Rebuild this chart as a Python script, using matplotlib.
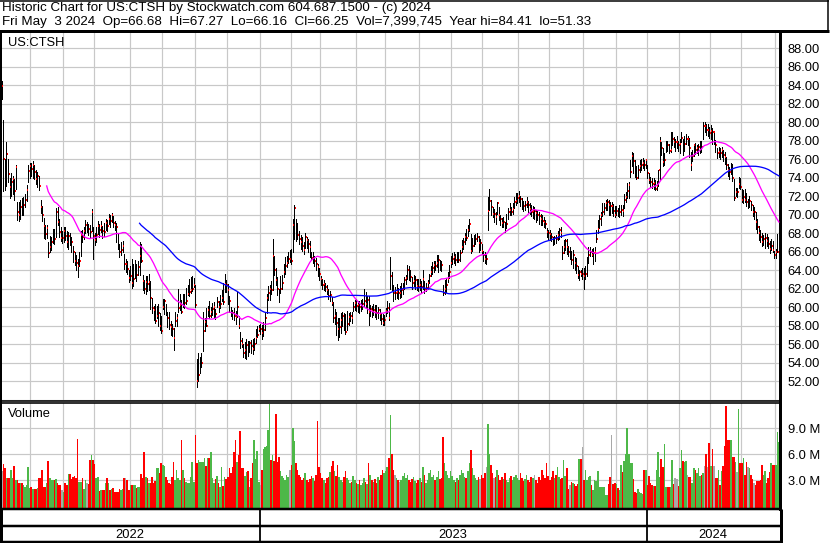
import matplotlib
matplotlib.use("Agg")
import matplotlib.pyplot as plt
from matplotlib.lines import Line2D
import numpy as np
import pandas as pd

plt.rcParams['font.family'] = ['Liberation Sans', 'DejaVu Sans']

# ---- data (daily bars, 2022-05-04 .. 2024-05-03) ----
close = [
    83.9, 76.0, 75.6, 76.5, 74.4, 73.0, 73.5, 73.8, 72.5, 75.1,
    70.3, 70.0, 70.8, 70.3, 71.0, 71.6, 72.7, 74.7, 75.2, 74.9,
    75.3, 74.6, 73.8, 74.2, 73.1, 70.8, 69.9, 68.8, 67.9, 68.5,
    65.8, 66.5, 67.0, 67.9, 67.3, 70.3, 69.2, 68.1, 67.5, 67.5,
    68.2, 67.7, 67.0, 67.7, 67.4, 67.0, 66.0, 65.0, 64.8, 64.4,
    65.0, 67.8, 67.6, 68.2, 68.9, 68.9, 68.4, 68.1, 70.3, 67.7,
    67.2, 67.8, 68.8, 68.3, 68.8, 68.2, 68.1, 69.1, 68.8, 69.5,
    69.3, 69.9, 69.1, 68.9, 68.6, 66.9, 65.9, 66.2, 66.6, 64.6,
    64.6, 64.1, 63.1, 63.4, 62.6, 63.0, 64.3, 63.5, 64.3, 65.5,
    65.0, 62.8, 62.0, 62.7, 62.5, 62.7, 61.0, 59.9, 59.7, 58.5,
    59.0, 59.3, 58.0, 57.4, 60.0, 60.6, 59.6, 58.8, 58.1, 57.8,
    57.6, 56.7, 58.5, 58.8, 59.9, 60.2, 59.5, 60.5, 60.4, 60.7,
    61.4, 61.6, 61.8, 62.0, 62.4, 60.2, 52.0, 52.7, 53.5, 54.0,
    57.4, 58.4, 58.0, 59.7, 59.0, 59.5, 59.8, 60.0, 59.2, 60.5,
    60.0, 60.3, 61.0, 60.5, 62.5, 62.4, 61.8, 60.6, 59.5, 59.3,
    59.0, 58.9, 60.0, 58.0, 56.3, 56.0, 55.0, 55.4, 55.9, 55.6,
    56.1, 55.8, 55.5, 56.0, 56.6, 57.0, 57.6, 57.6, 57.2, 57.5,
    58.8, 61.0, 61.5, 62.0, 61.8, 65.5, 64.0, 62.9, 62.0, 60.9,
    62.0, 62.6, 63.8, 64.4, 64.8, 65.2, 65.2, 65.0, 68.9, 70.7,
    69.0, 67.8, 67.4, 67.0, 66.6, 66.2, 67.6, 67.2, 66.8, 66.5,
    65.3, 65.6, 65.0, 64.6, 64.3, 63.6, 63.0, 62.4, 62.5, 62.2,
    61.8, 61.2, 61.3, 60.4, 58.8, 59.0, 58.3, 57.6, 57.8, 58.6,
    59.0, 58.5, 57.3, 58.2, 58.9, 59.0, 58.8, 60.0, 60.4, 60.1,
    60.2, 60.0, 60.2, 60.3, 60.6, 60.3, 60.8, 59.5, 59.8, 59.6,
    59.7, 59.5, 59.3, 59.7, 59.2, 58.7, 58.3, 58.6, 59.6, 59.9,
    58.8, 63.3, 62.5, 61.5, 61.5, 61.6, 61.5, 61.5, 61.8, 62.0,
    62.9, 63.1, 64.0, 63.5, 63.2, 62.6, 62.8, 62.9, 62.3, 62.2,
    62.4, 62.2, 63.0, 62.0, 62.1, 62.6, 63.3, 63.8, 64.2, 64.5,
    64.4, 64.8, 65.1, 64.6, 64.5, 61.5, 62.0, 62.4, 63.0, 63.8,
    64.8, 65.2, 65.4, 65.1, 65.4, 65.1, 65.8, 66.5, 67.0, 67.6,
    67.5, 68.3, 69.0, 66.1, 66.6, 67.2, 67.3, 67.6, 66.9, 66.9,
    66.1, 65.6, 65.2, 65.2, 70.4, 71.5, 70.8, 70.1, 70.1, 69.7,
    71.2, 70.0, 69.5, 69.1, 69.2, 68.6, 69.0, 70.3, 70.5, 70.3,
    70.6, 71.4, 71.5, 71.8, 72.0, 71.7, 71.2, 70.9, 71.0, 71.3,
    71.0, 70.6, 70.3, 70.4, 70.4, 70.2, 69.9, 69.8, 69.5, 69.3,
    69.2, 69.0, 68.1, 68.0, 67.9, 67.6, 67.2, 67.5, 67.3, 67.8,
    68.3, 68.0, 65.8, 66.5, 67.1, 66.5, 66.0, 66.0, 65.1, 65.6,
    64.8, 64.4, 63.5, 63.8, 63.6, 63.6, 63.4, 63.6, 64.5, 65.6,
    66.0, 65.6, 65.8, 65.9, 67.4, 68.4, 69.5, 69.9, 70.3, 70.7,
    71.2, 71.4, 71.0, 70.9, 70.9, 70.4, 69.9, 70.4, 70.0, 70.3,
    70.5, 70.4, 71.6, 71.9, 72.5, 73.2, 74.6, 76.3, 75.8, 75.3,
    73.9, 74.8, 75.2, 75.4, 75.6, 75.4, 75.9, 74.5, 73.7, 73.5,
    73.3, 73.4, 72.8, 73.1, 74.8, 77.9, 77.2, 75.7, 75.9, 77.7,
    77.5, 76.9, 77.0, 78.2, 77.8, 77.8, 77.8, 77.5, 77.6, 78.3,
    77.5, 77.6, 78.2, 78.2, 77.2, 75.3, 76.3, 77.5, 77.0, 77.2,
    77.3, 77.5, 77.3, 79.6, 79.6, 79.1, 79.1, 78.8, 79.0, 78.9,
    78.9, 77.5, 76.6, 76.8, 76.6, 77.0, 76.4, 76.2, 75.3, 74.8,
    74.6, 74.8, 74.0, 71.8, 72.4, 72.4, 73.3, 73.0, 71.6, 71.9,
    71.6, 71.3, 71.3, 71.5, 71.0, 70.3, 70.3, 69.2, 68.6, 68.0,
    67.6, 67.0, 67.4, 67.5, 67.1, 66.8, 66.3, 66.6, 66.2, 65.6,
    65.9, 66.0, 66.25,
]

high = [
    84.4, 80.2, 76.0, 77.8, 76.0, 74.0, 74.5, 74.2, 73.8, 75.3,
    71.3, 71.3, 71.6, 71.8, 71.9, 72.2, 73.2, 75.3, 75.6, 75.6,
    75.8, 75.4, 74.8, 74.6, 74.2, 71.6, 70.9, 69.6, 68.9, 68.9,
    67.0, 67.7, 67.6, 68.4, 68.4, 70.7, 70.8, 69.5, 68.7, 68.2,
    68.6, 68.6, 68.2, 68.1, 68.0, 67.6, 66.6, 66.0, 65.6, 65.2,
    65.9, 68.2, 68.3, 68.6, 69.4, 69.2, 69.0, 68.9, 70.6, 68.7,
    68.0, 68.6, 69.3, 69.0, 69.3, 68.8, 69.1, 69.5, 69.4, 70.1,
    69.9, 70.2, 69.8, 69.3, 69.1, 67.9, 66.8, 67.0, 67.1, 65.7,
    65.2, 65.0, 64.0, 64.4, 65.2, 64.6, 65.1, 64.6, 65.0, 67.0,
    66.8, 63.5, 62.9, 63.3, 63.4, 63.6, 62.8, 61.0, 60.1, 60.3,
    60.1, 60.3, 59.4, 59.0, 60.9, 60.9, 60.3, 59.5, 59.5, 58.5,
    58.2, 57.7, 59.5, 59.2, 61.9, 61.4, 60.8, 61.4, 61.4, 62.1,
    62.4, 63.0, 63.2, 63.3, 63.1, 62.4, 54.4, 55.0, 54.6, 55.0,
    59.5, 58.8, 59.9, 60.1, 60.6, 60.0, 60.4, 60.5, 59.8, 61.1,
    60.6, 61.3, 61.8, 62.6, 63.6, 62.9, 62.5, 61.2, 60.0, 59.7,
    59.9, 59.6, 61.6, 59.0, 57.3, 56.6, 56.0, 56.2, 56.5, 56.3,
    56.3, 56.4, 56.5, 56.6, 57.6, 57.9, 58.1, 58.2, 58.1, 58.4,
    59.5, 61.4, 62.3, 62.4, 62.8, 67.4, 65.5, 64.2, 63.2, 62.0,
    63.3, 63.5, 64.6, 65.4, 65.5, 66.0, 66.2, 66.3, 69.5, 71.0,
    69.5, 69.1, 68.2, 67.8, 67.6, 67.0, 68.0, 67.6, 67.4, 67.1,
    65.9, 66.0, 65.5, 65.3, 64.7, 64.2, 63.4, 63.0, 62.9, 62.6,
    62.4, 61.9, 61.7, 61.1, 60.5, 59.8, 59.5, 58.8, 58.8, 59.3,
    59.5, 59.4, 59.2, 59.6, 59.3, 59.5, 59.5, 60.5, 60.8, 60.9,
    60.7, 60.6, 60.8, 60.9, 61.9, 61.6, 61.2, 61.2, 60.2, 60.1,
    60.3, 60.2, 60.2, 60.0, 59.8, 59.3, 59.2, 59.1, 59.9, 60.6,
    60.4, 65.4, 63.8, 62.4, 62.2, 62.5, 62.1, 62.3, 62.6, 62.6,
    63.2, 63.5, 64.5, 64.4, 64.0, 63.2, 63.5, 63.3, 63.0, 63.0,
    63.0, 62.8, 64.0, 62.8, 62.6, 62.9, 63.6, 64.4, 64.9, 65.0,
    65.0, 65.6, 65.6, 65.1, 65.0, 62.4, 62.9, 63.1, 63.8, 64.5,
    65.5, 65.8, 65.9, 65.7, 66.0, 65.9, 66.2, 67.2, 67.5, 68.0,
    68.4, 68.9, 69.5, 67.9, 67.5, 67.8, 67.9, 68.0, 67.7, 67.4,
    66.8, 66.1, 65.9, 65.6, 71.9, 72.8, 71.6, 70.8, 70.6, 70.3,
    71.4, 70.8, 70.0, 69.6, 69.7, 69.2, 70.1, 70.7, 71.2, 70.8,
    71.2, 71.9, 72.3, 72.3, 72.5, 72.0, 71.8, 71.5, 71.5, 71.9,
    71.5, 71.2, 71.0, 70.9, 70.8, 70.5, 70.4, 70.3, 70.1, 69.9,
    69.7, 69.4, 68.5, 68.3, 68.3, 68.0, 67.6, 67.7, 67.8, 68.2,
    68.5, 68.6, 66.6, 67.2, 67.3, 67.3, 66.6, 66.5, 66.1, 66.2,
    65.4, 65.3, 64.4, 64.0, 64.0, 64.2, 64.2, 64.4, 65.4, 66.5,
    66.5, 66.3, 66.4, 66.5, 68.3, 69.4, 70.0, 70.3, 71.2, 71.2,
    71.6, 71.7, 71.6, 71.4, 71.4, 71.1, 70.9, 70.9, 70.7, 71.0,
    71.0, 71.0, 72.2, 72.4, 73.4, 73.5, 75.9, 76.8, 76.6, 75.9,
    75.2, 75.3, 75.9, 76.0, 76.1, 75.9, 76.0, 75.3, 74.5, 74.1,
    74.0, 73.9, 73.7, 73.6, 74.8, 78.4, 77.8, 77.2, 76.7, 78.0,
    77.9, 77.6, 78.9, 78.9, 78.4, 78.2, 78.5, 78.0, 78.2, 78.9,
    78.2, 78.5, 78.7, 78.5, 78.3, 76.8, 77.0, 77.6, 77.7, 77.5,
    77.6, 77.9, 77.9, 80.0, 80.0, 79.8, 79.8, 79.5, 79.7, 79.3,
    79.0, 78.1, 77.2, 77.3, 77.2, 77.3, 77.0, 76.8, 76.2, 75.5,
    75.1, 75.6, 75.5, 73.8, 72.9, 72.9, 74.1, 73.9, 72.8, 72.6,
    72.8, 72.3, 71.7, 72.0, 71.5, 71.0, 70.8, 70.3, 69.5, 68.8,
    68.3, 68.0, 67.8, 68.0, 67.9, 67.6, 67.1, 67.4, 67.1, 66.1,
    66.3, 67.9, 67.27,
]

low = [
    82.5, 72.5, 72.6, 73.1, 73.5, 71.8, 72.0, 72.2, 71.6, 72.8,
    69.4, 69.3, 69.5, 70.0, 70.0, 70.8, 71.5, 73.5, 74.0, 74.2,
    74.0, 73.8, 73.3, 73.0, 72.6, 70.2, 69.3, 67.5, 67.4, 67.5,
    65.4, 66.0, 66.2, 66.9, 66.8, 67.6, 68.9, 67.6, 67.1, 66.9,
    67.0, 67.2, 66.5, 66.3, 66.7, 66.0, 64.9, 64.5, 64.0, 63.2,
    64.4, 65.5, 67.0, 67.3, 68.0, 68.1, 67.8, 67.6, 68.2, 65.2,
    66.7, 67.0, 67.9, 67.6, 68.1, 67.5, 67.7, 68.3, 68.2, 69.0,
    68.7, 69.2, 68.6, 68.3, 67.0, 66.3, 65.4, 65.6, 65.9, 64.1,
    63.8, 63.6, 62.7, 62.9, 62.1, 62.3, 63.1, 62.8, 63.5, 63.5,
    64.9, 61.8, 61.5, 61.4, 61.7, 61.8, 59.8, 59.3, 58.6, 58.3,
    58.8, 58.0, 57.5, 57.2, 59.8, 59.2, 59.1, 57.8, 57.6, 57.0,
    56.9, 55.4, 58.0, 58.0, 59.5, 59.7, 59.4, 60.0, 59.9, 60.3,
    61.3, 61.2, 61.5, 61.7, 62.2, 60.0, 51.3, 52.0, 52.9, 53.5,
    55.2, 57.4, 57.9, 59.0, 58.8, 58.9, 59.1, 58.9, 58.7, 60.0,
    59.5, 59.9, 60.6, 60.3, 61.6, 61.6, 60.3, 59.5, 59.0, 58.7,
    58.6, 58.2, 58.9, 57.7, 55.6, 55.7, 54.6, 54.5, 54.4, 54.7,
    55.1, 55.0, 54.9, 55.3, 56.1, 56.8, 57.4, 57.1, 56.5, 56.9,
    57.5, 59.4, 60.8, 60.8, 61.4, 61.8, 63.5, 62.4, 61.3, 60.5,
    61.5, 62.0, 63.2, 63.6, 64.3, 64.8, 64.9, 64.6, 65.9, 67.4,
    67.1, 67.3, 66.8, 66.3, 66.1, 65.7, 66.4, 66.4, 66.0, 65.4,
    65.1, 64.8, 64.4, 64.0, 63.3, 62.9, 62.4, 62.0, 61.8, 61.7,
    61.4, 60.9, 60.6, 60.2, 58.4, 58.2, 57.0, 56.4, 56.8, 57.2,
    57.9, 57.5, 57.1, 57.5, 58.1, 58.5, 58.3, 59.6, 59.7, 59.6,
    59.5, 59.4, 59.6, 59.8, 60.1, 60.0, 59.4, 58.1, 59.0, 58.9,
    59.1, 58.9, 58.7, 58.8, 58.6, 58.2, 58.1, 58.1, 59.0, 59.3,
    58.6, 62.0, 61.8, 60.6, 60.9, 61.0, 60.9, 61.0, 61.1, 61.4,
    62.0, 62.5, 63.0, 62.9, 62.8, 61.9, 62.3, 62.0, 61.8, 61.7,
    61.8, 61.6, 62.0, 61.5, 61.7, 62.0, 62.6, 63.4, 63.6, 63.8,
    64.0, 64.3, 63.8, 64.0, 63.9, 61.3, 61.4, 61.6, 62.7, 63.1,
    64.3, 64.6, 64.8, 64.5, 64.9, 64.9, 65.0, 65.9, 66.3, 66.8,
    67.2, 67.7, 68.2, 65.8, 66.1, 66.6, 66.8, 67.1, 66.0, 66.2,
    65.7, 65.0, 64.8, 64.6, 68.3, 70.5, 69.9, 69.7, 69.2, 69.0,
    70.1, 69.4, 68.9, 68.6, 68.7, 68.1, 68.5, 69.5, 70.0, 69.9,
    70.1, 70.7, 71.0, 71.2, 71.4, 70.9, 70.6, 70.4, 70.5, 70.8,
    70.3, 70.1, 69.8, 69.6, 69.5, 69.2, 69.4, 69.0, 68.9, 68.9,
    68.7, 68.5, 67.6, 67.4, 67.2, 67.1, 66.7, 66.8, 66.9, 67.2,
    67.3, 67.6, 65.2, 65.8, 66.2, 65.7, 65.5, 65.2, 64.7, 64.2,
    64.0, 63.7, 63.1, 62.9, 63.3, 63.0, 62.0, 63.0, 63.3, 64.8,
    65.5, 65.5, 64.6, 65.0, 67.0, 68.0, 68.5, 68.9, 69.8, 70.1,
    70.5, 70.5, 70.0, 70.0, 70.2, 69.8, 69.7, 69.9, 69.8, 69.7,
    70.0, 69.8, 70.7, 71.4, 71.8, 71.8, 74.1, 75.2, 74.5, 74.1,
    73.8, 74.0, 74.6, 74.8, 75.0, 74.8, 75.0, 73.9, 73.4, 73.0,
    72.9, 72.8, 72.6, 72.7, 73.1, 73.7, 76.4, 75.2, 75.3, 76.8,
    76.9, 76.6, 76.8, 77.5, 77.3, 76.9, 77.2, 76.9, 76.6, 77.8,
    76.4, 76.9, 77.6, 77.5, 76.2, 74.8, 75.8, 76.3, 76.5, 76.6,
    76.4, 76.6, 76.8, 78.2, 78.9, 78.6, 78.5, 78.3, 78.2, 77.6,
    77.6, 76.8, 76.1, 76.2, 76.0, 76.2, 75.8, 75.5, 74.9, 74.2,
    73.8, 74.4, 73.6, 71.6, 72.0, 71.9, 72.9, 72.8, 71.4, 71.2,
    71.4, 70.9, 70.7, 70.8, 70.5, 69.8, 69.5, 68.4, 68.0, 67.2,
    67.0, 66.6, 66.7, 66.4, 66.6, 66.4, 65.8, 66.2, 65.9, 65.3,
    65.3, 65.9, 66.16,
]

# volume in millions of shares
volume = [
    4.0, 4.9, 4.4, 3.2, 3.2, 3.2, 4.2, 3.2, 4.6, 3.0,
    3.0, 2.7, 2.6, 2.6, 2.4, 2.2, 2.4, 4.5, 2.1, 2.2,
    2.0, 2.0, 2.0, 2.1, 3.2, 3.2, 4.2, 2.2, 2.2, 2.6,
    5.2, 3.2, 3.0, 3.0, 3.0, 3.1, 2.6, 2.4, 2.4, 1.8,
    1.6, 2.6, 2.4, 3.7, 3.7, 3.1, 3.4, 3.5, 3.2, 7.8,
    2.8, 2.8, 3.2, 1.9, 3.0, 2.6, 2.5, 5.3, 5.9, 5.3,
    4.9, 3.2, 3.3, 1.7, 1.8, 1.8, 1.8, 2.6, 3.2, 2.7,
    1.8, 1.9, 2.1, 1.6, 1.6, 1.6, 2.0, 1.8, 2.0, 3.2,
    3.2, 3.0, 1.8, 2.4, 2.4, 2.4, 2.4, 2.1, 2.2, 2.2,
    3.7, 3.2, 6.2, 3.4, 3.2, 2.7, 2.6, 3.3, 2.7, 2.9,
    4.4, 4.4, 3.8, 5.0, 4.8, 4.6, 3.3, 3.0, 2.6, 2.5,
    3.3, 5.1, 3.0, 4.2, 3.2, 3.0, 7.7, 4.2, 3.2, 2.8,
    2.6, 2.6, 3.3, 5.1, 2.8, 8.2, 5.0, 5.3, 5.1, 5.1,
    5.1, 5.5, 4.6, 5.5, 5.5, 6.2, 3.2, 2.6, 3.1, 3.5,
    2.6, 2.2, 4.5, 2.3, 3.3, 3.1, 3.3, 4.4, 3.8, 4.5,
    6.3, 7.6, 5.1, 5.9, 8.7, 4.4, 4.4, 3.5, 3.9, 4.0,
    2.2, 3.2, 5.0, 7.7, 5.4, 6.4, 2.8, 2.4, 4.2, 6.6,
    6.8, 7.0, 8.8, 11.8, 5.3, 5.9, 5.2, 10.7, 5.1, 5.7,
    4.0, 3.5, 3.2, 3.0, 3.6, 3.3, 4.2, 4.8, 9.0, 7.5,
    5.0, 4.2, 3.6, 3.4, 3.0, 3.2, 3.8, 3.0, 2.8, 3.1,
    3.5, 3.2, 2.9, 3.6, 9.8, 4.5, 3.8, 3.2, 3.0, 2.7,
    3.2, 3.4, 3.9, 4.6, 5.2, 4.0, 3.5, 4.8, 3.3, 3.0,
    2.8, 3.4, 4.0, 3.2, 3.0, 2.6, 2.8, 3.5, 3.0, 2.7,
    2.5, 3.0, 2.4, 2.6, 3.2, 2.8, 2.5, 5.0, 3.6, 3.0,
    2.8, 3.1, 2.6, 3.3, 3.0, 3.6, 4.2, 3.8, 4.0, 4.5,
    5.5, 10.5, 6.0, 4.2, 3.6, 3.2, 3.0, 2.8, 3.0, 3.5,
    3.8, 3.2, 3.6, 3.0, 2.8, 3.1, 3.4, 2.9, 2.6, 3.0,
    3.2, 2.8, 4.5, 3.6, 2.7, 3.0, 3.8, 4.2, 3.3, 3.6,
    3.0, 3.4, 4.0, 3.1, 3.2, 8.0, 5.0, 4.0, 3.6, 3.2,
    4.0, 3.5, 3.0, 2.8, 3.2, 3.0, 3.6, 4.2, 3.8, 3.4,
    3.2, 4.0, 5.0, 6.5, 4.4, 3.6, 3.2, 3.0, 3.4, 3.1,
    3.6, 3.2, 3.8, 4.5, 9.5, 6.0, 4.8, 3.8, 3.2, 3.4,
    4.2, 3.6, 3.0, 3.3, 3.1, 3.8, 3.0, 2.8, 3.2, 3.5,
    3.0, 3.4, 3.6, 3.2, 3.0, 3.8, 3.2, 2.9, 3.1, 3.6,
    3.0, 2.8, 3.4, 3.2, 3.6, 3.0, 2.7, 3.3, 3.0, 4.2,
    3.6, 3.2, 5.0, 3.5, 3.0, 3.4, 4.0, 3.2, 3.6, 4.5,
    3.4, 3.1, 3.2, 5.3, 3.5, 4.4, 2.0, 2.4, 2.8, 2.6,
    2.5, 2.3, 2.5, 5.4, 5.4, 6.8, 3.0, 4.2, 3.0, 3.4,
    3.5, 2.4, 1.8, 3.0, 2.9, 4.1, 2.2, 2.2, 2.2, 2.2,
    1.3, 1.2, 2.5, 3.3, 8.2, 2.5, 2.6, 2.5, 2.1, 1.8,
    4.7, 3.9, 5.2, 6.0, 9.1, 6.0, 5.0, 5.0, 3.1, 1.6,
    1.5, 1.9, 1.6, 1.5, 1.4, 4.2, 4.2, 2.4, 3.5, 2.7,
    2.4, 2.3, 2.3, 4.2, 6.3, 3.3, 5.4, 4.5, 7.2, 2.2,
    2.2, 2.2, 2.2, 5.3, 2.5, 3.2, 3.1, 2.3, 4.4, 6.5,
    5.2, 5.1, 5.2, 3.6, 3.3, 3.3, 2.6, 4.4, 4.2, 3.8,
    4.4, 3.5, 3.6, 3.8, 4.6, 6.0, 4.5, 7.3, 4.6, 6.6,
    4.6, 3.2, 3.2, 4.2, 2.4, 4.0, 4.6, 6.9, 11.6, 7.6,
    7.6, 7.6, 5.7, 5.7, 5.1, 3.9, 11.3, 5.0, 5.0, 5.5,
    3.6, 5.1, 4.5, 4.4, 3.6, 3.1, 2.7, 2.4, 2.9, 2.9,
    3.0, 4.7, 3.6, 4.1, 2.6, 3.2, 3.9, 5.0, 4.7, 4.7,
    4.7, 8.6, 7.4,
]

# NYSE holidays inside the chart period
holidays = [
    '2022-05-30', '2022-06-20', '2022-07-04', '2022-09-05', '2022-11-24', '2022-12-26',
    '2023-01-02', '2023-01-16', '2023-02-20', '2023-04-07', '2023-05-29', '2023-06-19',
    '2023-07-04', '2023-09-04', '2023-11-23', '2023-12-25',
    '2024-01-01', '2024-01-15', '2024-02-19', '2024-03-29',
]

header1 = "Historic Chart for US:CTSH by Stockwatch.com 604.687.1500 - (c) 2024"
header2 = ("Fri May  3 2024  Op=66.68  Hi=67.27  Lo=66.16  Cl=66.25  "
           "Vol=7,399,745  Year hi=84.41  lo=51.33")
price_ticks = np.arange(52, 89, 2)
vol_ticks = [3, 6, 9]

# ---- prep ----
n = len(close)
dates = pd.bdate_range('2022-05-04', periods=n, freq='C', holidays=holidays)
c = np.array(close)
hi = np.maximum(np.array(high), c)
lo = np.minimum(np.array(low), c)
v = np.array(volume)
x = np.arange(n)
ma30 = pd.Series(c).rolling(30).mean()
ma90 = pd.Series(c).rolling(90).mean()

prev = np.r_[c[0], c[:-1]]
vcol = np.where(c > prev, '#4db848', np.where(c < prev, '#ff0000', '#a8a8a8'))

month_start = [i for i in range(1, n) if dates[i].month != dates[i - 1].month]
year_start = [i for i in range(1, n) if dates[i].year != dates[i - 1].year]

W, H = 830, 543
PX = 0.72  # points per pixel at dpi 100
fig = plt.figure(figsize=(W / 100, H / 100), dpi=100)


def fx(px):
    return px / W


def fy(py):
    return 1 - py / H


x0 = 1.8
step = 1.548
xlim = (-x0 / step, (780 - x0) / step)
grid_c = '#c8c8c8'
fs = 9.3

# price panel
ax = fig.add_axes([0, fy(401), fx(780), (401 - 31) / H])
ax.set_xlim(*xlim)
ax.set_ylim(49.84, 89.84)
for y in range(50, 90, 2):
    ax.axhline(y, color=grid_c, lw=1.2 * PX, zorder=0)
for i in month_start:
    ax.axvline(i - 0.5, color=grid_c, lw=1.2 * PX, zorder=0)
ax.vlines(x, lo, hi, color='black', lw=1.0 * PX, zorder=2, antialiased=False)
ax.hlines(c, x + 0.4, x + 1.0, color='red', lw=2 * PX, zorder=3, antialiased=False)
ax.plot(x, ma30, color='#ff00ff', lw=1.3 * PX, zorder=4)
ax.plot(x, ma90, color='#0000ff', lw=1.3 * PX, zorder=4)
ax.set_xticks([])
ax.yaxis.tick_right()
ax.set_yticks(price_ticks)
ax.set_yticklabels(['%.2f' % t for t in price_ticks])
ax.tick_params(axis='y', length=0, pad=5.5, labelsize=fs)
for s, w in [('left', 3), ('right', 3), ('top', 3), ('bottom', 1.6)]:
    ax.spines[s].set_linewidth(w * PX)
ax.text(fx(8) / fx(780), 1 - 12 / 370, 'US:CTSH', transform=ax.transAxes,
        fontsize=fs, va='center', ha='left')

# volume panel
axv = fig.add_axes([0, fy(509), fx(780), (509 - 403) / H])
axv.set_xlim(*xlim)
vb = -0.37
axv.set_ylim(vb, 11.95)
for y in vol_ticks:
    axv.axhline(y, color=grid_c, lw=1.2 * PX, zorder=0)
for i in month_start:
    axv.axvline(i - 0.5, color=grid_c, lw=1.2 * PX, zorder=0)
axv.bar(x, v - vb, bottom=vb, width=1.0, color=vcol, linewidth=0, zorder=2)
axv.set_xticks([])
axv.yaxis.tick_right()
axv.set_yticks(vol_ticks)
axv.set_yticklabels(['%.1f M' % t for t in vol_ticks])
axv.tick_params(axis='y', length=0, pad=5.5, labelsize=fs)
for s, w in [('left', 3), ('right', 3), ('top', 1.6), ('bottom', 2.5)]:
    axv.spines[s].set_linewidth(w * PX)
axv.text(fx(8) / fx(780), 1 - 11 / 106, 'Volume', transform=axv.transAxes,
         fontsize=fs, va='center', ha='left')


def fline(xs, ys, w):
    fig.add_artist(Line2D([fx(p) for p in xs], [fy(p) for p in ys],
                          color='black', lw=w * PX, solid_capstyle='butt'))


# header box
fline([0, 828.5], [0.5, 0.5], 1.5)
fline([827.8, 827.8], [0, 31], 1.5)
fline([0, 828.5], [30.5, 30.5], 3)
fig.text(fx(2), fy(8.5), header1, fontsize=9.6, va='center', ha='left')
fig.text(fx(2), fy(22), header2, fontsize=9.6, va='center', ha='left')

# date strip
fline([0, 781.5], [525.8, 525.8], 2.5)
fline([0, 781.5], [541.6, 541.6], 2.5)
fline([1, 1], [509, 543], 3)
fline([780.5, 780.5], [509, 543], 3)
edges = [0]
for i in year_start:
    px = x0 + step * (i - 0.5)
    edges.append(px)
    fline([px, px], [510, 542], 1.8)
edges.append(780)
years = [str(d.year) for d in [dates[0]] + [dates[i] for i in year_start]]
for k, yr in enumerate(years):
    fig.text(fx((edges[k] + edges[k + 1]) / 2), fy(534.5), yr, fontsize=fs,
             ha='center', va='center')

fig.savefig('out.png', dpi=100)
